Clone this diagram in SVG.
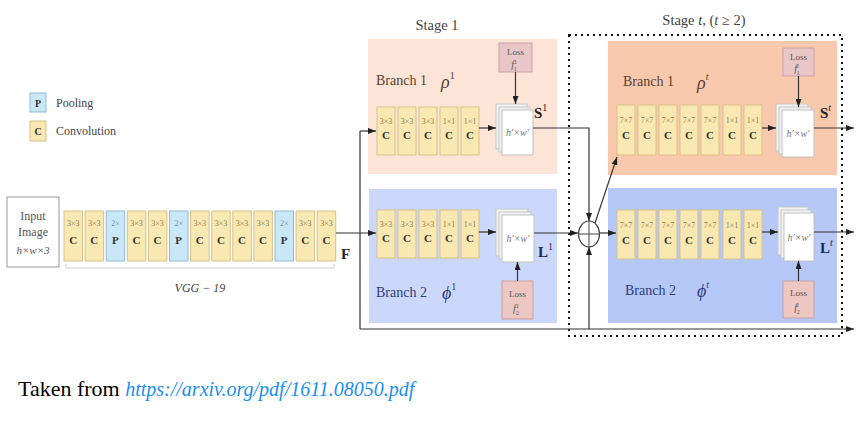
<svg xmlns="http://www.w3.org/2000/svg" width="864" height="426" viewBox="0 0 864 426">
<defs>
<marker id="ah" markerWidth="8" markerHeight="6" refX="8" refY="3" orient="auto" markerUnits="userSpaceOnUse"><path d="M0,0 L8,3 L0,6 z" fill="#222"/></marker>
</defs>
<style>
text{font-family:"Liberation Serif","DejaVu Serif",serif;}
.conv{fill:#fae8b2;stroke:#d8c187;stroke-width:1;}
.pool{fill:#c9e7f6;stroke:#8fbcd4;stroke-width:1;}
.kl{font-size:8px;fill:#8c7f52;text-anchor:middle;}
.kc{font-size:11px;font-weight:bold;fill:#333;text-anchor:middle;}
.lay{fill:#f2f2f2;stroke:#c8c8c8;stroke-width:1;}
.front{fill:#fff;stroke:#c0c0c0;stroke-width:1;}
.hw{font-size:10px;font-style:italic;fill:#777;text-anchor:middle;}
.loss{fill:#e9c6c8;stroke:#c9a1a5;stroke-width:1;}
.lt{font-size:9px;fill:#555;text-anchor:middle;}
.ln{fill:none;stroke:#333;stroke-width:1.2;}
.lna{fill:none;stroke:#333;stroke-width:1.2;marker-end:url(#ah);}
.br1{font-size:14px;fill:#5a4032;}
.br2{font-size:14px;fill:#2c3c80;}
.gk{font-size:18px;font-style:italic;}
.sup{font-size:10px;}
.title{font-size:14.5px;fill:#444;text-anchor:middle;}
.big{font-size:15px;font-weight:bold;fill:#222;}
</style>

<!-- Legend -->
<g id="legend">
<rect class="pool" x="30" y="93" width="16" height="19"/>
<text x="38" y="106.5" style="font-size:10px;font-weight:bold;fill:#333;text-anchor:middle">P</text>
<text x="56" y="107" style="font-size:12px;fill:#444">Pooling</text>
<rect class="conv" x="30" y="121" width="16" height="20"/>
<text x="38" y="135" style="font-size:10px;font-weight:bold;fill:#333;text-anchor:middle">C</text>
<text x="56" y="135" style="font-size:12px;fill:#444">Convolution</text>
</g>

<!-- Input image -->
<g id="input">
<rect x="7" y="197" width="52" height="70" fill="#fff" stroke="#9a9a9a" stroke-width="1"/>
<text x="33" y="220" style="font-size:12px;fill:#555;text-anchor:middle">Input</text>
<text x="33" y="236" style="font-size:12px;fill:#555;text-anchor:middle">Image</text>
<text x="33" y="254" style="font-size:11px;fill:#555;text-anchor:middle;font-style:italic">h×w×3</text>
</g>

<!-- VGG blocks -->
<g id="vgg">
<g id="v1"><rect class="conv" x="64" y="211" width="18.5" height="50"/><text class="kl" x="73.2" y="226">3×3</text><text class="kc" x="73.2" y="244">C</text></g>
<g id="v2"><rect class="conv" x="85.1" y="211" width="18.5" height="50"/><text class="kl" x="94.3" y="226">3×3</text><text class="kc" x="94.3" y="244">C</text></g>
<g id="v3"><rect class="pool" x="106.2" y="211" width="18.5" height="50"/><text class="kl" x="115.4" y="226" style="fill:#6a9ab5">2×</text><text class="kc" x="115.4" y="244">P</text></g>
<g id="v4"><rect class="conv" x="127.3" y="211" width="18.5" height="50"/><text class="kl" x="136.5" y="226">3×3</text><text class="kc" x="136.5" y="244">C</text></g>
<g id="v5"><rect class="conv" x="148.4" y="211" width="18.5" height="50"/><text class="kl" x="157.6" y="226">3×3</text><text class="kc" x="157.6" y="244">C</text></g>
<g id="v6"><rect class="pool" x="169.5" y="211" width="18.5" height="50"/><text class="kl" x="178.7" y="226" style="fill:#6a9ab5">2×</text><text class="kc" x="178.7" y="244">P</text></g>
<g id="v7"><rect class="conv" x="190.6" y="211" width="18.5" height="50"/><text class="kl" x="199.8" y="226">3×3</text><text class="kc" x="199.8" y="244">C</text></g>
<g id="v8"><rect class="conv" x="211.7" y="211" width="18.5" height="50"/><text class="kl" x="220.9" y="226">3×3</text><text class="kc" x="220.9" y="244">C</text></g>
<g id="v9"><rect class="conv" x="232.8" y="211" width="18.5" height="50"/><text class="kl" x="242" y="226">3×3</text><text class="kc" x="242" y="244">C</text></g>
<g id="v10"><rect class="conv" x="253.9" y="211" width="18.5" height="50"/><text class="kl" x="263.1" y="226">3×3</text><text class="kc" x="263.1" y="244">C</text></g>
<g id="v11"><rect class="pool" x="275" y="211" width="18.5" height="50"/><text class="kl" x="284.2" y="226" style="fill:#6a9ab5">2×</text><text class="kc" x="284.2" y="244">P</text></g>
<g id="v12"><rect class="conv" x="296.1" y="211" width="18.5" height="50"/><text class="kl" x="305.3" y="226">3×3</text><text class="kc" x="305.3" y="244">C</text></g>
<g id="v13"><rect class="conv" x="317.2" y="211" width="18.5" height="50"/><text class="kl" x="326.4" y="226">3×3</text><text class="kc" x="326.4" y="244">C</text></g>
<path d="M66,264 V268 H334 V264" fill="none" stroke="#cfcfcf" stroke-width="1"/>
<text x="200" y="292" style="font-size:12px;font-style:italic;fill:#444;text-anchor:middle">VGG − 19</text>
</g>
<text x="341" y="259" class="big">F</text>

<!-- Stage 1 -->
<text class="title" x="437" y="30">Stage 1</text>
<g id="stage1-branch1">
<rect x="368" y="39" width="189" height="135" fill="#fce4d7"/>
<text class="br1" x="376" y="85">Branch 1</text>
<text class="gk" x="441" y="88" fill="#5a4032">ρ<tspan class="sup" dy="-9" style="font-style:normal">1</tspan></text>
</g>
<g id="s1b1c1"><rect class="conv" x="377" y="107" width="18" height="48"/><text class="kl" x="386" y="124">3×3</text><text class="kc" x="386" y="139">C</text></g>
<g id="s1b1c2"><rect class="conv" x="398" y="107" width="18" height="48"/><text class="kl" x="407" y="124">3×3</text><text class="kc" x="407" y="139">C</text></g>
<g id="s1b1c3"><rect class="conv" x="419" y="107" width="18" height="48"/><text class="kl" x="428" y="124">3×3</text><text class="kc" x="428" y="139">C</text></g>
<g id="s1b1c4"><rect class="conv" x="440" y="107" width="18" height="48"/><text class="kl" x="449" y="124">1×1</text><text class="kc" x="449" y="139">C</text></g>
<g id="s1b1c5"><rect class="conv" x="461" y="107" width="18" height="48"/><text class="kl" x="470" y="124">1×1</text><text class="kc" x="470" y="139">C</text></g>
<g id="s1b1-map"><rect class="lay" x="496" y="104" width="31" height="45"/><rect class="lay" x="499" y="107" width="31" height="45"/><rect class="front" x="502" y="110" width="31" height="45"/><text class="hw" x="517.5" y="136">h′×w′</text></g>
<g id="s1b1-loss"><rect class="loss" x="499" y="43" width="33" height="29"/><text class="lt" x="515.5" y="55">Loss</text><text class="lt" x="514" y="68" style="font-style:italic;font-size:10px">f<tspan style="font-size:6px;font-style:normal" dy="-4">1</tspan><tspan style="font-size:6px;font-style:normal" dx="-3" dy="7">1</tspan></text></g>
<text class="big" x="534" y="118">S<tspan class="sup" dy="-7" style="font-weight:normal">1</tspan></text>

<g id="stage1-branch2">
<rect x="369" y="189" width="188" height="134" fill="#ccd8fb"/>
<text class="br2" x="376" y="297">Branch 2</text>
<text class="gk" x="442" y="299" fill="#2c3c80">ϕ<tspan class="sup" dy="-9" style="font-style:normal">1</tspan></text>
</g>
<g id="s1b2c1"><rect class="conv" x="377" y="210" width="18" height="48"/><text class="kl" x="386" y="227">3×3</text><text class="kc" x="386" y="242">C</text></g>
<g id="s1b2c2"><rect class="conv" x="398" y="210" width="18" height="48"/><text class="kl" x="407" y="227">3×3</text><text class="kc" x="407" y="242">C</text></g>
<g id="s1b2c3"><rect class="conv" x="419" y="210" width="18" height="48"/><text class="kl" x="428" y="227">3×3</text><text class="kc" x="428" y="242">C</text></g>
<g id="s1b2c4"><rect class="conv" x="440" y="210" width="18" height="48"/><text class="kl" x="449" y="227">1×1</text><text class="kc" x="449" y="242">C</text></g>
<g id="s1b2c5"><rect class="conv" x="461" y="210" width="18" height="48"/><text class="kl" x="470" y="227">1×1</text><text class="kc" x="470" y="242">C</text></g>
<g id="s1b2-map"><rect class="lay" x="496" y="209" width="32" height="47"/><rect class="lay" x="499" y="212" width="32" height="47"/><rect class="front" x="502" y="215" width="32" height="47"/><text class="hw" x="518" y="242">h′×w′</text></g>
<g id="s1b2-loss"><rect class="loss" x="502" y="281" width="31" height="38" style="fill:#eec6c2"/><text class="lt" x="517.5" y="297">Loss</text><text class="lt" x="516" y="312" style="font-style:italic;font-size:10px">f<tspan style="font-size:6px;font-style:normal" dy="-4">1</tspan><tspan style="font-size:6px;font-style:normal" dx="-3" dy="7">2</tspan></text></g>
<text class="big" x="538" y="257" style="fill:#1f2a55">L<tspan class="sup" dy="-7" style="font-weight:normal">1</tspan></text>

<!-- Stage t -->
<text class="title" x="704" y="25">Stage <tspan font-style="italic">t</tspan>, (<tspan font-style="italic">t</tspan> ≥ 2)</text>
<g id="staget-branch1">
<rect x="608" y="41" width="229" height="134" fill="#f9c9ad"/>
<text class="br1" x="623" y="86">Branch 1</text>
<text class="gk" x="697" y="89" fill="#5a4032">ρ<tspan class="sup" dy="-9">t</tspan></text>
</g>
<g id="stb1c1"><rect class="conv" x="617" y="105" width="18" height="50"/><text class="kl" x="626" y="123">7×7</text><text class="kc" x="626" y="139">C</text></g>
<g id="stb1c2"><rect class="conv" x="638" y="105" width="18" height="50"/><text class="kl" x="647" y="123">7×7</text><text class="kc" x="647" y="139">C</text></g>
<g id="stb1c3"><rect class="conv" x="659" y="105" width="18" height="50"/><text class="kl" x="668" y="123">7×7</text><text class="kc" x="668" y="139">C</text></g>
<g id="stb1c4"><rect class="conv" x="680" y="105" width="18" height="50"/><text class="kl" x="689" y="123">7×7</text><text class="kc" x="689" y="139">C</text></g>
<g id="stb1c5"><rect class="conv" x="701" y="105" width="18" height="50"/><text class="kl" x="710" y="123">7×7</text><text class="kc" x="710" y="139">C</text></g>
<g id="stb1c6"><rect class="conv" x="723" y="105" width="18" height="50"/><text class="kl" x="732" y="123">1×1</text><text class="kc" x="732" y="139">C</text></g>
<g id="stb1c7"><rect class="conv" x="744" y="105" width="18" height="50"/><text class="kl" x="753" y="123">1×1</text><text class="kc" x="753" y="139">C</text></g>
<g id="stb1-map"><rect class="lay" x="776" y="104" width="32" height="47"/><rect class="lay" x="779" y="107" width="32" height="47"/><rect class="front" x="782" y="110" width="32" height="47"/><text class="hw" x="798" y="137">h′×w′</text></g>
<g id="stb1-loss"><rect class="loss" x="783" y="48" width="31" height="28"/><text class="lt" x="798.5" y="60">Loss</text><text class="lt" x="797" y="72" style="font-style:italic;font-size:10px">f<tspan style="font-size:6px" dy="-4">t</tspan><tspan style="font-size:6px;font-style:normal" dx="-2" dy="7">1</tspan></text></g>
<text class="big" x="820" y="118">S<tspan class="sup" dy="-7" style="font-weight:normal;font-style:italic">t</tspan></text>

<g id="staget-branch2">
<rect x="608" y="188" width="229" height="135" fill="#b6c8f8"/>
<text class="br2" x="625" y="295">Branch 2</text>
<text class="gk" x="697" y="297" fill="#2c3c80">ϕ<tspan class="sup" dy="-9">t</tspan></text>
</g>
<g id="stb2c1"><rect class="conv" x="617" y="210" width="18" height="49"/><text class="kl" x="626" y="228">7×7</text><text class="kc" x="626" y="244">C</text></g>
<g id="stb2c2"><rect class="conv" x="638" y="210" width="18" height="49"/><text class="kl" x="647" y="228">7×7</text><text class="kc" x="647" y="244">C</text></g>
<g id="stb2c3"><rect class="conv" x="659" y="210" width="18" height="49"/><text class="kl" x="668" y="228">7×7</text><text class="kc" x="668" y="244">C</text></g>
<g id="stb2c4"><rect class="conv" x="680" y="210" width="18" height="49"/><text class="kl" x="689" y="228">7×7</text><text class="kc" x="689" y="244">C</text></g>
<g id="stb2c5"><rect class="conv" x="701" y="210" width="18" height="49"/><text class="kl" x="710" y="228">7×7</text><text class="kc" x="710" y="244">C</text></g>
<g id="stb2c6"><rect class="conv" x="723" y="210" width="18" height="49"/><text class="kl" x="732" y="228">1×1</text><text class="kc" x="732" y="244">C</text></g>
<g id="stb2c7"><rect class="conv" x="744" y="210" width="18" height="49"/><text class="kl" x="753" y="228">1×1</text><text class="kc" x="753" y="244">C</text></g>
<g id="stb2-map"><rect class="lay" x="778" y="207" width="30" height="48"/><rect class="lay" x="781" y="210" width="30" height="48"/><rect class="front" x="784" y="213" width="30" height="48"/><text class="hw" x="799" y="241">h′×w′</text></g>
<g id="stb2-loss"><rect class="loss" x="783" y="281" width="31" height="37" style="fill:#eec6c2"/><text class="lt" x="798.5" y="296">Loss</text><text class="lt" x="797" y="311" style="font-style:italic;font-size:10px">f<tspan style="font-size:6px" dy="-4">t</tspan><tspan style="font-size:6px;font-style:normal" dx="-2" dy="7">2</tspan></text></g>
<text class="big" x="820" y="253" style="fill:#1f2a55">L<tspan class="sup" dy="-7" style="font-weight:normal;font-style:italic">t</tspan></text>

<!-- Stage t dotted frame -->
<rect id="staget-frame" x="569" y="35" width="273" height="301" fill="none" stroke="#111" stroke-width="2" stroke-dasharray="2 4"/>

<!-- Sum node -->
<g id="sum">
<ellipse cx="589" cy="234" rx="10.5" ry="13" fill="none" stroke="#444" stroke-width="1.2"/>
<path d="M578.5,234 H599.5 M589,221 V247" stroke="#444" stroke-width="1" fill="none"/>
</g>

<!-- Connectors -->
<g id="connectors">
<path class="lna" d="M336,233 H376"/>
<path class="ln" d="M360,131 V329"/>
<path class="lna" d="M360,131 H376"/>
<path class="lna" d="M360,329 H854"/>
<path class="lna" d="M479,128 H496"/>
<path class="lna" d="M479,232 H496"/>
<path class="lna" d="M515.5,72 V104"/>
<path class="lna" d="M517.5,281 V262"/>
<path class="lna" d="M533,128 H589 V221"/>
<path class="lna" d="M534,233 H578"/>
<path class="lna" d="M589,329 V247"/>
<path class="lna" d="M599.5,233 H616"/>
<path class="lna" d="M595,223 L617,157"/>
<path class="lna" d="M762,128 H776"/>
<path class="lna" d="M762,232 H778"/>
<path class="lna" d="M798.5,76 V107"/>
<path class="lna" d="M798.5,281 V261"/>
<path class="lna" d="M814,128 H854"/>
<path class="lna" d="M814,232 H854"/>
</g>

<!-- Caption -->
<text x="18" y="396" style="font-size:22px;fill:#000">Taken from <tspan style="font-size:20px;font-style:italic;fill:#1a8ff0">https://arxiv.org/pdf/1611.08050.pdf</tspan></text>
</svg>
